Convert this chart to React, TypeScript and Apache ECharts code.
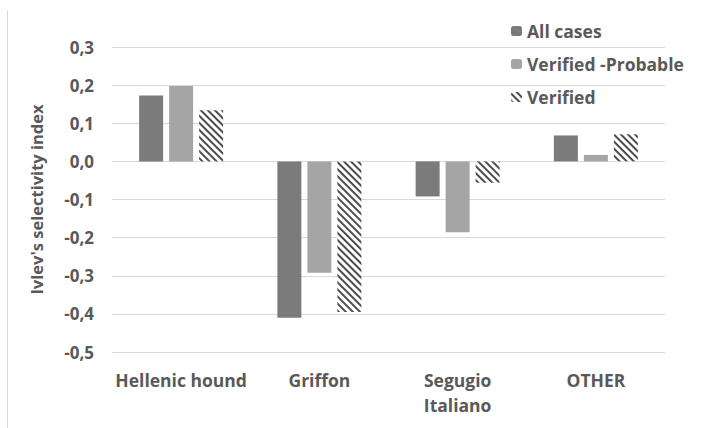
import React, { useEffect, useRef } from "react";
import * as echarts from "echarts";

const categories = ["Hellenic hound", "Griffon", "Segugio\nItaliano", "OTHER"];
const seriesNames = ["All cases", "Verified -Probable", "Verified"];
const allCases = [0.173, -0.41, -0.092, 0.068];
const verifiedProbable = [0.198, -0.292, -0.186, 0.017];
const verified = [0.134, -0.395, -0.056, 0.071];
const yAxisName = "Ivlev's selectivity index";

const FONT = "'Open Sans', sans-serif";
const TEXT = "#595959";
const W = "bold";

export default function App() {
  const ref = useRef<HTMLDivElement>(null);
  useEffect(() => {
    if (!ref.current) return;
    const chart = echarts.init(ref.current, undefined, { renderer: "svg" });
    chart.setOption({
      animation: false,
      backgroundColor: "#ffffff",
      textStyle: { fontFamily: FONT },
      grid: { left: 112, right: 54, top: 47, bottom: 76, containLabel: false },
      legend: {
        orient: "vertical",
        left: 506,
        top: 16,
        itemWidth: 11,
        itemHeight: 10,
        itemGap: 13,
        textStyle: { fontFamily: FONT, fontWeight: W, fontSize: 17.5, color: TEXT, lineHeight: 20 },
        data: seriesNames,
      },
      xAxis: {
        type: "category",
        data: categories,
        position: "bottom",
        axisLine: { show: false },
        axisTick: { show: false },
        axisLabel: {
          fontFamily: FONT,
          fontWeight: W,
          fontSize: 17.5,
          color: TEXT,
          margin: 15,
          lineHeight: 25,
          interval: 0,
        },
      },
      yAxis: {
        type: "value",
        min: -0.5,
        max: 0.3,
        interval: 0.1,
        name: yAxisName,
        nameLocation: "middle",
        nameGap: 67,
        nameTextStyle: { fontFamily: FONT, fontWeight: W, fontSize: 16.5, color: TEXT },
        axisLine: { show: false },
        axisTick: { show: false },
        splitLine: { lineStyle: { color: "#d9d9d9", width: 1 } },
        axisLabel: {
          fontFamily: FONT,
          fontWeight: W,
          fontSize: 17,
          color: TEXT,
          margin: 18,
          formatter: (v: number) => (Math.abs(v) < 1e-9 ? 0 : v).toFixed(1).replace(".", ","),
        },
      },
      graphic: [
        {
          type: "line",
          shape: { x1: 7.5, y1: 10, x2: 7.5, y2: 428 },
          style: { stroke: "#d9d9d9", lineWidth: 1 },
          silent: true,
        },
      ],
      series: [
        {
          name: seriesNames[0],
          type: "bar",
          data: allCases,
          barWidth: 24,
          barGap: "25%",
          itemStyle: { color: "#7b7b7b" },
        },
        {
          name: seriesNames[1],
          type: "bar",
          data: verifiedProbable,
          barWidth: 24,
          barGap: "25%",
          itemStyle: { color: "#a5a5a5" },
        },
        {
          name: seriesNames[2],
          type: "bar",
          data: verified,
          barWidth: 24,
          barGap: "25%",
          itemStyle: {
            color: "#ffffff",
            decal: {
              symbol: "rect",
              symbolSize: 1,
              color: "#4d4d4d",
              backgroundColor: "#ffffff",
              dashArrayX: [1, 0],
              dashArrayY: [2, 3],
              rotation: Math.PI / 4,
            },
          },
        },
      ],
    });
    return () => chart.dispose();
  }, []);
  return (
    <div
      ref={ref}
      style={{ position: "fixed", left: 0, top: 0, width: 719, height: 428 }}
    />
  );
}
